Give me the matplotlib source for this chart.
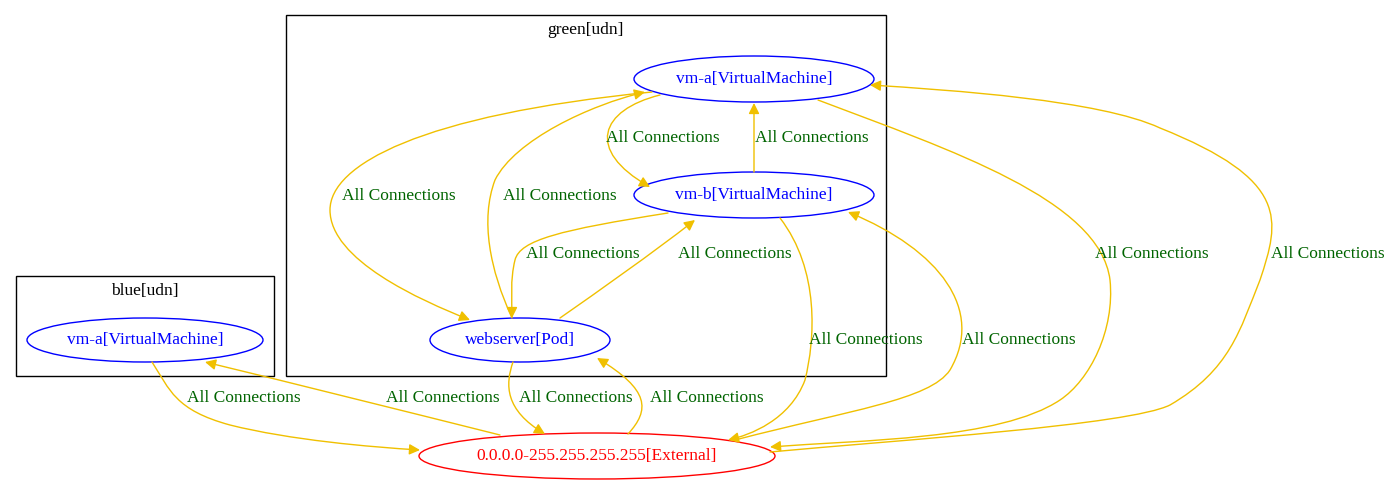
import matplotlib
matplotlib.use("Agg")
import matplotlib.pyplot as plt
from matplotlib.patches import Ellipse, Rectangle, FancyArrowPatch
from matplotlib.path import Path

plt.rcParams['font.family'] = ['Liberation Serif', 'DejaVu Serif']

# clusters: label, x0, y0, x1, y1, label position
clusters = [
    ("green[udn]", 286, 15, 886, 376, 585, 30),
    ("blue[udn]", 16, 276, 274, 376, 145, 291),
]
# nodes: label, cx, cy, rx, ry, color
nodes = [
    ("vm-a[VirtualMachine]", 754, 79, 120, 23, "blue"),
    ("vm-b[VirtualMachine]", 754, 195, 120, 23, "blue"),
    ("webserver[Pod]", 520, 340, 90, 22, "blue"),
    ("vm-a[VirtualMachine]", 145, 340, 118, 22, "blue"),
    ("0.0.0.0-255.255.255.255[External]", 597, 456, 178, 23, "red"),
]
edge_label = "All Connections"
# edges: control points (cubic bezier chains), label position
edges = [
    ([(652,92),(420,115),(330,165),(330,210),(330,260),(420,300),(470,320)], (399,196)),
    ([(512,318),(490,270),(480,220),(495,180),(515,140),(590,105),(645,92)], (560,196)),
    ([(660,95),(600,110),(585,150),(650,187)], (663,138)),
    ([(754,172),(754,150),(754,125),(754,103)], (812,138)),
    ([(668,213),(560,230),(520,240),(515,260),(510,280),(512,300),(512,318)], (583,254)),
    ([(560,318),(600,290),(650,255),(695,220)], (735,254)),
    ([(818,100),(950,150),(1100,200),(1110,280),(1115,330),(1090,380),(1060,400),(1000,440),(860,440),(770,447)], (1152,254)),
    ([(770,452),(900,440),(1130,425),(1170,405),(1230,370),(1240,330),(1260,280),(1280,220),(1290,180),(1160,128),(1100,100),(950,90),(870,85)], (1328,254)),
    ([(780,218),(820,270),(815,340),(805,380),(790,420),(750,435),(728,440)], (866,340)),
    ([(735,440),(850,410),(930,400),(950,370),(985,310),(940,250),(848,212)], (1019,340)),
    ([(152,362),(170,390),(175,410),(230,425),(290,440),(370,447),(420,450)], (244,398)),
    ([(500,435),(400,410),(300,385),(205,362)], (443,398)),
    ([(513,362),(505,385),(505,410),(545,434)], (576,398)),
    ([(628,434),(650,410),(650,390),(597,358)], (707,398)),
]

fig = plt.figure(figsize=(13.96, 4.87), dpi=100)
ax = fig.add_axes([0, 0, 1, 1])
ax.set_xlim(0, 1396)
ax.set_ylim(487, 0)
ax.axis('off')

for lab, x0, y0, x1, y1, lx, ly in clusters:
    ax.add_patch(Rectangle((x0, y0), x1 - x0, y1 - y0, fill=False, ec='black', lw=1))
    ax.text(lx, ly, lab, ha='center', va='center', fontsize=12.5, color='black')

for lab, cx, cy, rx, ry, c in nodes:
    ax.add_patch(Ellipse((cx, cy), 2 * rx, 2 * ry, fill=False, ec=c, lw=1))
    ax.text(cx, cy, lab, ha='center', va='center', fontsize=12.5, color=c)

for pts, (lx, ly) in edges:
    codes = [Path.MOVETO] + [Path.CURVE4] * (len(pts) - 1)
    p = FancyArrowPatch(path=Path(pts, codes), arrowstyle='-|>', mutation_scale=16,
                        color='#f0c000', lw=1, shrinkA=0, shrinkB=0)
    ax.add_patch(p)
    ax.text(lx, ly, edge_label, ha='center', va='center', fontsize=12.5, color='#006400')

fig.savefig("out.png", dpi=100)
